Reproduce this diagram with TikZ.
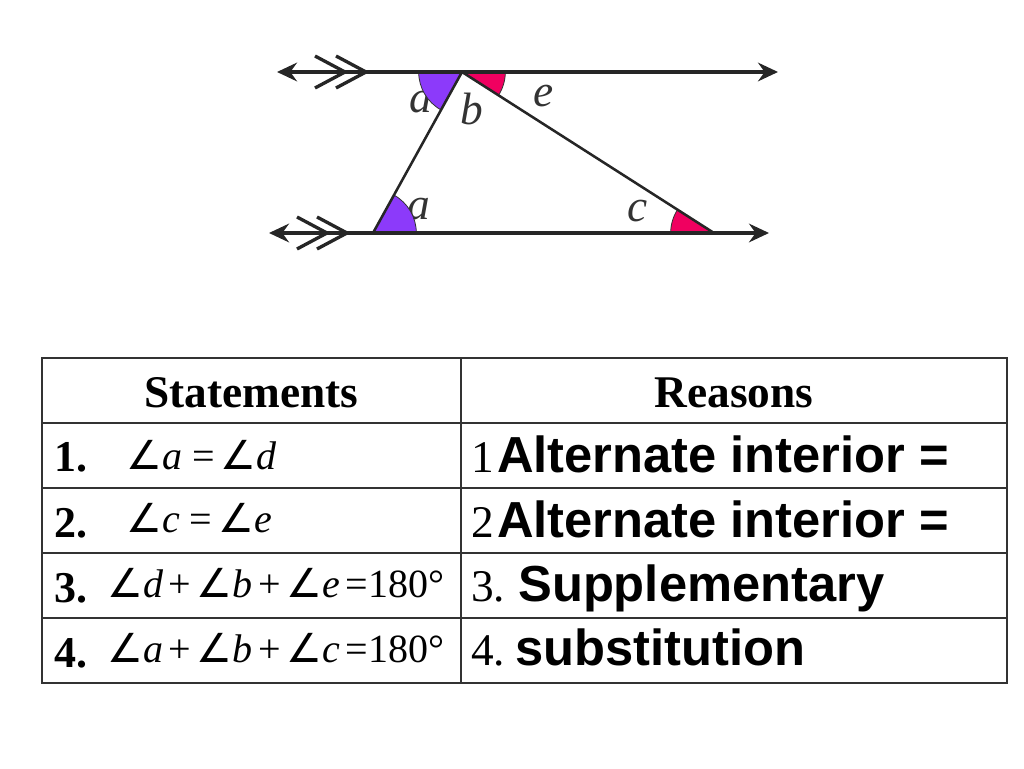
\documentclass[tikz,border=0pt]{standalone}
\usepackage{fontspec}
\setmainfont{Liberation Serif}
\newfontfamily\arialfont{Liberation Sans}
\newfontfamily\anglefont{DejaVu Sans}
\usepackage{tikz}
\usepackage{xcolor}
\usetikzlibrary{arrows.meta}

\definecolor{wedgeviolet}{RGB}{140,58,250}
\definecolor{wedgepink}{RGB}{240,0,96}
\newcommand{\ang}{{\anglefont ∠}}
\newcommand{\gap}{\hspace{0.14em}}

\begin{document}
\begin{tikzpicture}[x=0.75pt,y=0.75pt,
                    parallel/.style={line width=2.3pt, color=black!85, {Stealth[length=15pt,width=14pt,inset=5pt]}-{Stealth[length=15pt,width=14pt,inset=5pt]}},
                    side/.style={line width=1.9pt, color=black!85},
                    chevron/.style={line width=2.5pt, color=black!85},
                    wedgeA/.style={fill=wedgeviolet, draw=black!80, line width=0.6pt},
                    wedgeB/.style={fill=wedgepink, draw=black!80, line width=0.6pt},
                    lbl/.style={anchor=base, inner sep=0pt, font=\fontsize{34}{34}\selectfont\itshape, color=black!80},
                    grid/.style={line width=1.1pt, color=black!80},
                    head/.style={anchor=base, inner sep=0pt, font=\fontsize{34}{34}\selectfont\bfseries},
                    num/.style={anchor=base west, inner sep=0pt, font=\fontsize{33}{33}\selectfont\bfseries},
                    stmt/.style={anchor=base west, inner sep=0pt, font=\fontsize{30}{30}\selectfont},
                    rnum/.style={anchor=base west, inner sep=0pt, font=\fontsize{34}{34}\selectfont},
                    reason/.style={anchor=base west, inner sep=0pt, font=\arialfont\bfseries\fontsize{38}{38}\selectfont}]
                    \useasboundingbox (0,0) rectangle (1024,768);

                    % the two parallel lines and the triangle
                    \coordinate (L1) at (277,696);
                    \coordinate (R1) at (778,696);
                    \coordinate (L2) at (269,535);
                    \coordinate (R2) at (769,535);
                    \coordinate (A) at (373,535);
                    \coordinate (B) at (462,696);
                    \coordinate (C) at (714,535);

                    \node[lbl] (d) at (421,655) {d};
                    \node[lbl] (b) at (472,643) {b};
                    \node[lbl] (e) at (544,661) {e};
                    \node[lbl] (c) at (638,546) {c};
                    \node[lbl] (a) at (419,548) {a};

                    \filldraw[wedgeA] (B) -- ++(180:32.5pt) arc[start angle=180, end angle=241.07, radius=32.5pt] -- cycle;
                    \filldraw[wedgeB] (B) -- ++(-32.57:32.5pt) arc[start angle=-32.57, end angle=0, radius=32.5pt] -- cycle;
                    \filldraw[wedgeA] (A) -- ++(0:32.5pt) arc[start angle=0, end angle=61.07, radius=32.5pt] -- cycle;
                    \filldraw[wedgeB] (C) -- ++(147.43:32.5pt) arc[start angle=147.43, end angle=180, radius=32.5pt] -- cycle;

                    \draw[parallel] (L1) -- (R1);
                    \draw[parallel] (L2) -- (R2);
                    \draw[side] (A) -- (B) -- (C);

                    \draw[chevron] (315,712) -- (345,696) -- (315,680);
                    \draw[chevron] (336,712) -- (366,696) -- (336,680);
                    \draw[chevron] (297,551) -- (327,535) -- (297,519);
                    \draw[chevron] (317,551) -- (347,535) -- (317,519);

                    % the table
                    \draw[grid] (42,85) rectangle (1007,410);
                    \draw[grid] (461,85) -- (461,410);
                    \draw[grid] (42,345) -- (1007,345);
                    \draw[grid] (42,280) -- (1007,280);
                    \draw[grid] (42,215) -- (1007,215);
                    \draw[grid] (42,150) -- (1007,150);

                    \node[head] (sthead) at (251.5,360) {Statements};
                    \node[head] (rshead) at (734,360) {Reasons};

                    \node[num] (n1) at (54,296) {1.};
                    \node[num] (n2) at (54,231) {2.};
                    \node[num] (n3) at (54,166) {3.};
                    \node[num] (n4) at (54,101) {4.};

                    \node[stmt] (s1) at (126,298) {\ang\textit{a}\hspace{0.25em}=\hspace{0.15em}\ang\textit{d}};
                    \node[stmt] (s2) at (126,236) {\ang\textit{c}\hspace{0.25em}=\hspace{0.15em}\ang\textit{e}};
                    \node[stmt] (s3) at (107,171) {\ang\textit{d}\gap+\gap\ang\textit{b}\gap+\gap\ang\textit{e}\gap=180°};
                    \node[stmt] (s4) at (107,106) {\ang\textit{a}\gap+\gap\ang\textit{b}\gap+\gap\ang\textit{c}\gap=180°};

                    \node[rnum] (m1) at (471,295) {1};
                    \node[rnum] (m2) at (471,231) {2};
                    \node[rnum] (m3) at (471,167) {3.};
                    \node[rnum] (m4) at (471,103) {4.};

                    \node[reason] (r1) at (497,295) {Alternate interior =};
                    \node[reason] (r2) at (497,231) {Alternate interior =};
                    \node[reason] (r3) at (518,167) {Supplementary};
                    \node[reason] (r4) at (515,103) {substitution};
                \end{tikzpicture}
\end{document}
